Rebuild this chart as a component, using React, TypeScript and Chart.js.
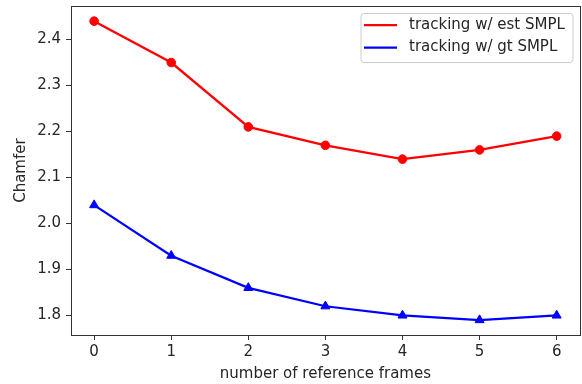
import React, { useEffect, useRef } from "react";
import { Chart, registerables } from "chart.js";

Chart.register(...registerables);

const frames = [0, 1, 2, 3, 4, 5, 6];
const estSMPL = [2.44, 2.35, 2.21, 2.17, 2.14, 2.16, 2.19];
const gtSMPL = [2.04, 1.93, 1.86, 1.82, 1.8, 1.79, 1.8];
const seriesLabels = ["tracking w/ est SMPL", "tracking w/ gt SMPL"];
const seriesColors = ["#ff0000", "#0000ff"];
const xTitle = "number of reference frames";
const yTitle = "Chamfer";

const FONT = "'DejaVu Sans', sans-serif";
const TEXT = "#262626";
const SPINE = "#333333";

const framePlugin = {
  id: "frameAndLegend",
  afterDraw(chart: any) {
    const { ctx, chartArea } = chart;
    ctx.save();
    ctx.strokeStyle = SPINE;
    ctx.lineWidth = 1;
    ctx.strokeRect(
      Math.round(chartArea.left) + 0.5,
      Math.round(chartArea.top) + 0.5,
      Math.round(chartArea.right - chartArea.left),
      Math.round(chartArea.bottom - chartArea.top)
    );
    // legend
    const bx = 361, by = 13.5, bw = 212, bh = 49, r = 3;
    ctx.beginPath();
    ctx.moveTo(bx + r, by);
    ctx.lineTo(bx + bw - r, by);
    ctx.arcTo(bx + bw, by, bx + bw, by + r, r);
    ctx.lineTo(bx + bw, by + bh - r);
    ctx.arcTo(bx + bw, by + bh, bx + bw - r, by + bh, r);
    ctx.lineTo(bx + r, by + bh);
    ctx.arcTo(bx, by + bh, bx, by + bh - r, r);
    ctx.lineTo(bx, by + r);
    ctx.arcTo(bx, by, bx + r, by, r);
    ctx.closePath();
    ctx.fillStyle = "rgba(255,255,255,0.8)";
    ctx.fill();
    ctx.strokeStyle = "#cccccc";
    ctx.lineWidth = 1;
    ctx.stroke();
    const ys = [25, 47.5];
    chart.data.datasets.forEach((ds: any, i: number) => {
      ctx.beginPath();
      ctx.strokeStyle = ds.borderColor;
      ctx.lineWidth = 2.25;
      ctx.moveTo(364, ys[i]);
      ctx.lineTo(397, ys[i]);
      ctx.stroke();
      ctx.fillStyle = TEXT;
      ctx.font = `15px ${FONT}`;
      ctx.textBaseline = "middle";
      ctx.textAlign = "left";
      ctx.fillText(ds.label, 409, ys[i]);
    });
    ctx.restore();
  },
};

const zeroPad = (s: any) => {
  s.paddingTop = 0;
  s.paddingBottom = 0;
  s.paddingLeft = 0;
  s.paddingRight = 0;
};

export default function App() {
  const ref = useRef<HTMLCanvasElement>(null);
  useEffect(() => {
    if (!ref.current) return;
    const chart = new Chart(ref.current, {
      type: "line",
      data: {
        datasets: [
          {
            label: seriesLabels[0],
            data: frames.map((f, i) => ({ x: f, y: estSMPL[i] })),
            borderColor: seriesColors[0],
            backgroundColor: seriesColors[0],
            borderWidth: 2.25,
            pointStyle: "circle",
            pointRadius: 4.3,
            pointBorderWidth: 1,
            tension: 0,
          },
          {
            label: seriesLabels[1],
            data: frames.map((f, i) => ({ x: f, y: gtSMPL[i] })),
            borderColor: seriesColors[1],
            backgroundColor: seriesColors[1],
            borderWidth: 2.25,
            pointStyle: "triangle",
            pointRadius: 5.2,
            pointBorderWidth: 1,
            tension: 0,
          },
        ],
      },
      options: {
        animation: false,
        responsive: false,
        devicePixelRatio: 1,
        layout: { padding: { top: 5.5, right: 2, left: 0, bottom: 0 } },
        plugins: { legend: { display: false }, tooltip: { enabled: false } },
        scales: {
          x: {
            type: "linear",
            min: -0.3,
            max: 6.3,
            ticks: {
              stepSize: 1,
              includeBounds: false,
              padding: 3,
              color: TEXT,
              font: { family: FONT, size: 15 },
              callback: (v: any) => String(v),
            },
            grid: { display: true, drawOnChartArea: false, drawTicks: true, tickLength: 5, color: SPINE },
            border: { display: true, color: SPINE, width: 1 },
            title: {
              display: true,
              text: xTitle,
              color: TEXT,
              font: { family: FONT, size: 15 },
              padding: { top: 0, bottom: 1 },
            },
            afterFit: (s: any) => {
              s.height = 49;
              zeroPad(s);
            },
          },
          y: {
            type: "linear",
            min: 1.7575,
            max: 2.4725,
            ticks: {
              stepSize: 0.1,
              includeBounds: false,
              padding: 5,
              color: TEXT,
              font: { family: FONT, size: 15 },
              callback: (v: any) => Number(v).toFixed(1),
            },
            grid: { display: true, drawOnChartArea: false, drawTicks: true, tickLength: 5, color: SPINE },
            border: { display: true, color: SPINE, width: 1 },
            title: {
              display: true,
              text: yTitle,
              color: TEXT,
              font: { family: FONT, size: 15 },
              padding: { top: 12, bottom: 0 },
            },
            afterFit: (s: any) => {
              s.width = 71;
              zeroPad(s);
            },
          },
        },
      },
      plugins: [framePlugin],
    });
    return () => chart.destroy();
  }, []);
  return (
    <div style={{ position: "absolute", left: 0, top: 0, width: 582, height: 384, overflow: "hidden", background: "#fff" }}>
      <canvas ref={ref} width={586} height={384} style={{ display: "block" }} />
    </div>
  );
}
